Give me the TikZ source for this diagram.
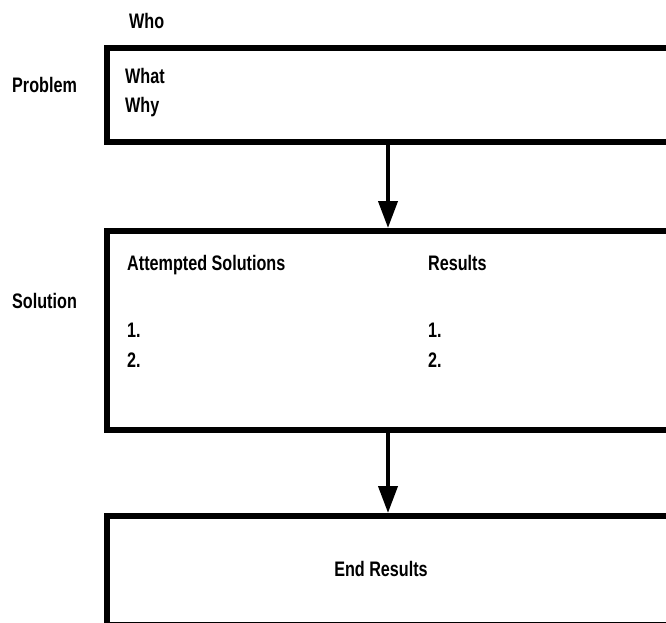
\documentclass[tikz,border=0pt]{standalone}
\usepackage{fontspec}
\newfontfamily\condfont{Liberation Sans}[FakeStretch=0.77]
\usetikzlibrary{arrows.meta}

\tikzset{
  lbl/.style={font=\condfont\bfseries\fontsize{21}{23}\selectfont, inner sep=0pt, anchor=base west},
  stage/.style={draw, line width=6pt, rectangle, anchor=north west, inner sep=0pt, minimum width=566pt},
  flow/.style={line width=4pt, -{Triangle[width=19pt,length=27pt]}}
}

\begin{document}
\begin{tikzpicture}[x=1pt,y=-1pt]
        \useasboundingbox (0,0) rectangle (666,623);
        \clip (0,0) rectangle (666,623);
        % boxes
        \node[stage, minimum height=94pt] (problem) at (104,45) {};
        \node[stage, minimum height=199pt] (solution) at (104,228) {};
        \node[stage, minimum height=109pt] (endbox) at (104,513) {};
        % arrows
        \draw[flow] ([xshift=-2pt]problem.south) -- ([xshift=-2pt]solution.north);
        \draw[flow] ([xshift=-2pt]solution.south) -- ([xshift=-2pt]endbox.north);
        % labels
        \node[lbl] (who) at (129,29) {Who};
        \node[lbl] (problemlbl) at (12,93) {Problem};
        \node[lbl] (what) at (125,84) {What};
        \node[lbl] (why) at (125,113) {Why};
        \node[lbl] (solutionlbl) at (12,308) {Solution};
        \node[lbl] (attempted) at (127,270) {Attempted Solutions};
        \node[lbl] (results) at (428,270) {Results};
        \node[lbl] (aone) at (127,337) {1.};
        \node[lbl] (atwo) at (127,367) {2.};
        \node[lbl] (rone) at (428,337) {1.};
        \node[lbl] (rtwo) at (428,367) {2.};
        \node[lbl, anchor=base] (endres) at (381,576) {End Results};
    \end{tikzpicture}
\end{document}
